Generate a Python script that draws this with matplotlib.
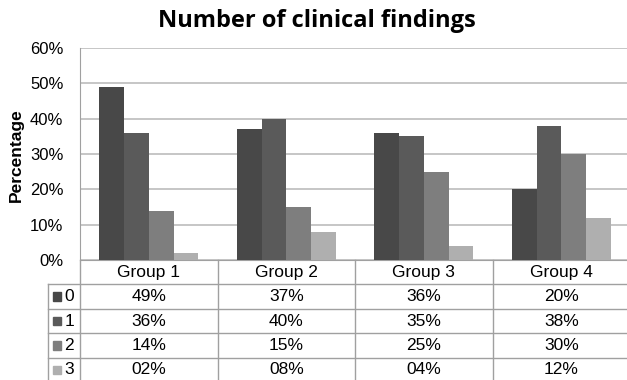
import matplotlib.pyplot as plt
from matplotlib.patches import Rectangle

# percentages per group for each number of clinical findings
groups = ["Group 1", "Group 2", "Group 3", "Group 4"]
series = ["0", "1", "2", "3"]
pct_0 = [49, 37, 36, 20]
pct_1 = [36, 40, 35, 38]
pct_2 = [14, 15, 25, 30]
pct_3 = [2, 8, 4, 12]
yticks = [0, 10, 20, 30, 40, 50, 60]

values = [pct_0, pct_1, pct_2, pct_3]
colors = ["#484848", "#5a5a5a", "#7e7e7e", "#afafaf"]
grid_c = "#c6c6c6"
line_c = "#a0a0a0"

plt.rcParams.update({
    "font.family": "Liberation Sans",
    "font.size": 12,
    "figure.facecolor": "white",
})

W, H = 627, 380
fig = plt.figure(figsize=(W / 100, H / 100), dpi=100)


def box(x0, y0, x1, y1):
    # pixel box -> figure fraction rect
    return [x0 / W, 1 - y1 / H, (x1 - x0) / W, (y1 - y0) / H]


ax = fig.add_axes(box(80, 48, 630, 260))
tab = fig.add_axes(box(80, 260, 630, 382))

bw = 0.18
off = 0.14
for k, (vals, c) in enumerate(zip(values, colors)):
    xs = [i + off + bw * k + bw / 2 for i in range(len(groups))]
    ax.bar(xs, vals, width=bw, color=c, linewidth=0, zorder=3)

ax.set_xlim(0, 4)
ax.set_ylim(0, 60)
ax.set_yticks(yticks)
ax.set_yticklabels([f"{t}%" for t in yticks])
ax.set_xticks([])
ax.tick_params(axis="y", length=0, pad=12, labelsize=12)
ax.yaxis.grid(True, color=grid_c, linewidth=1.4)
ax.set_axisbelow(True)
for s in ["top", "right"]:
    ax.spines[s].set_visible(False)
ax.spines["left"].set_color(line_c)
ax.spines["bottom"].set_color(line_c)

# data table under the bars
tab.set_xlim(0, 4)
tab.set_ylim(5, 0)
tab.axis("off")
left = -0.233
for r in range(1, 6):
    tab.plot([left, 4], [r, r], color=line_c, lw=1, clip_on=False)
for i in range(5):
    tab.plot([i, i], [0, 5], color=line_c, lw=1, clip_on=False)
tab.plot([left, left], [1, 5], color=line_c, lw=1, clip_on=False)

for i, g in enumerate(groups):
    tab.text(i + 0.5, 0.5, g, ha="center", va="center", fontsize=12.5)

for r, (name, vals, c) in enumerate(zip(series, values, colors)):
    y = r + 1.5
    tab.add_patch(Rectangle((-0.196, y - 0.17), 0.058, 0.34, color=c,
                            clip_on=False))
    tab.text(-0.112, y, name, ha="left", va="center", fontsize=12.5)
    for i, v in enumerate(vals):
        tab.text(i + 0.5, y, f"{v:02d}%", ha="center", va="center",
                 fontsize=12.5)

fig.text(16 / W, 1 - 155 / H, "Percentage", rotation=90, ha="center",
         va="center", fontsize=12.5, fontweight="bold")
fig.text(0.506, 0.945, "Number of clinical findings", ha="center",
         va="center", fontsize=17, fontweight="bold", family="Open Sans")

fig.savefig("out.png", dpi=100)
